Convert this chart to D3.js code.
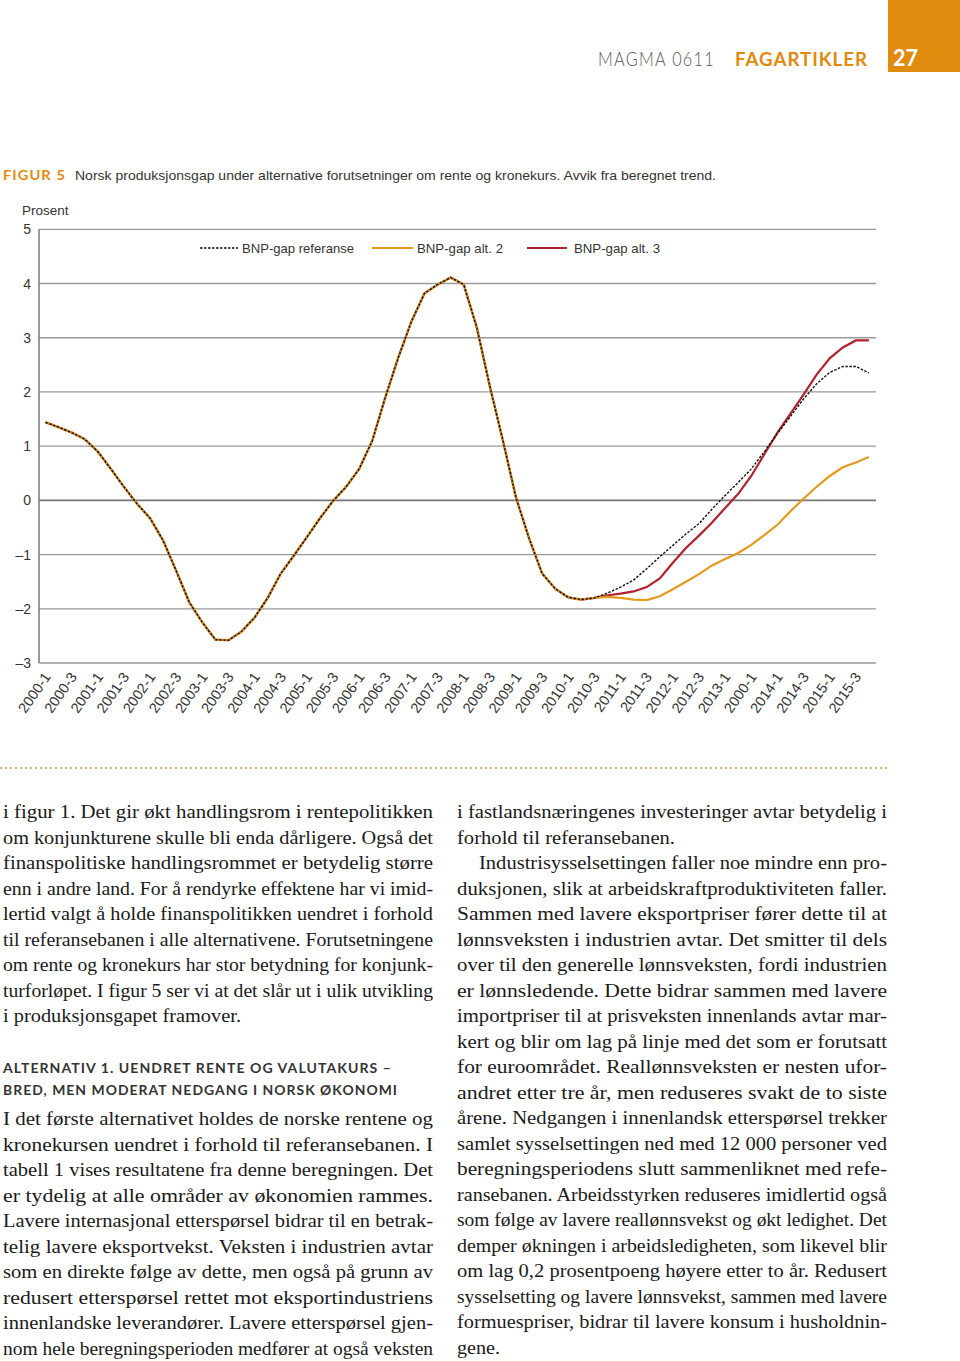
<!DOCTYPE html>
<html><head><meta charset="utf-8">
<script src="https://cdn.jsdelivr.net/npm/d3@7"></script>
<style>body{margin:0;background:#fff}</style>
</head><body><svg id="c" width="960" height="1361"></svg>
<script>
// ---------- DATA ----------
const quarters = [
 "2000-1","2000-2","2000-3","2000-4","2001-1","2001-2","2001-3","2001-4",
 "2002-1","2002-2","2002-3","2002-4","2003-1","2003-2","2003-3","2003-4",
 "2004-1","2004-2","2004-3","2004-4","2005-1","2005-2","2005-3","2005-4",
 "2006-1","2006-2","2006-3","2006-4","2007-1","2007-2","2007-3","2007-4",
 "2008-1","2008-2","2008-3","2008-4","2009-1","2009-2","2009-3","2009-4",
 "2010-1","2010-2","2010-3","2010-4","2011-1","2011-2","2011-3","2011-4",
 "2012-1","2012-2","2012-3","2012-4","2013-1","2013-2","2013-3","2013-4",
 "2014-1","2014-2","2014-3","2014-4","2015-1","2015-2","2015-3","2015-4"];
const tickLabels = [
 "2000-1","2000-3","2001-1","2001-3","2002-1","2002-3","2003-1","2003-3",
 "2004-1","2004-3","2005-1","2005-3","2006-1","2006-3","2007-1","2007-3",
 "2008-1","2008-3","2009-1","2009-3","2010-1","2010-3","2011-1","2011-3",
 "2012-1","2012-3","2013-1","2000-1","2014-1","2014-3","2015-1","2015-3"];
const yTicks = [5,4,3,2,1,0,-1,-2,-3];
const yTickLabels = ["5","4","3","2","1","0","–1","–2","–3"];
// common history (2000-1 .. 2010-2)
const history = [1.44,1.35,1.25,1.13,0.90,0.58,0.25,-0.06,-0.33,-0.74,
 -1.30,-1.88,-2.25,-2.57,-2.58,-2.42,-2.16,-1.80,-1.35,-1.02,
 -0.68,-0.33,-0.01,0.25,0.58,1.10,1.90,2.64,3.30,3.82,
 3.98,4.11,3.98,3.19,2.10,1.10,0.05,-0.70,-1.35,-1.63,
 -1.79,-1.83];
// projections (2010-3 .. 2015-4)
const refTail  = [-1.80,-1.71,-1.60,-1.47,-1.26,-1.04,-0.83,-0.62,-0.43,-0.16,0.09,0.33,0.58,0.90,1.23,1.55,1.87,2.15,2.36,2.47,2.47,2.35];
const alt2Tail = [-1.80,-1.78,-1.80,-1.83,-1.84,-1.77,-1.64,-1.50,-1.36,-1.20,-1.08,-0.97,-0.82,-0.64,-0.45,-0.20,0.03,0.25,0.45,0.61,0.70,0.80];
const alt3Tail = [-1.80,-1.75,-1.72,-1.68,-1.60,-1.44,-1.15,-0.88,-0.65,-0.41,-0.14,0.12,0.45,0.85,1.25,1.60,1.95,2.32,2.62,2.82,2.95,2.95];
const seriesNames = ["BNP-gap referanse","BNP-gap alt. 2","BNP-gap alt. 3"];

const leftLines1 = [
 "i figur 1. Det gir økt handlingsrom i rentepolitikken",
 "om konjunkturene skulle bli enda dårligere. Også det",
 "finanspolitiske handlingsrommet er betydelig større",
 "enn i andre land. For å rendyrke effektene har vi imid-",
 "lertid valgt å holde finanspolitikken uendret i forhold",
 "til referansebanen i alle alternativene. Forutsetningene",
 "om rente og kronekurs har stor betydning for konjunk-",
 "turforløpet. I figur 5 ser vi at det slår ut i ulik utvikling",
 "i produksjonsgapet framover."];
const headingLines = [
 "ALTERNATIV 1. UENDRET RENTE OG VALUTAKURS –",
 "BRED, MEN MODERAT NEDGANG I NORSK ØKONOMI"];
const leftLines2 = [
 "I det første alternativet holdes de norske rentene og",
 "kronekursen uendret i forhold til referansebanen. I",
 "tabell 1 vises resultatene fra denne beregningen. Det",
 "er tydelig at alle områder av økonomien rammes.",
 "Lavere internasjonal etterspørsel bidrar til en betrak-",
 "telig lavere eksportvekst. Veksten i industrien avtar",
 "som en direkte følge av dette, men også på grunn av",
 "redusert etterspørsel rettet mot eksportindustriens",
 "innenlandske leverandører. Lavere etterspørsel gjen-",
 "nom hele beregningsperioden medfører at også veksten"];
const rightLines = [
 "i fastlandsnæringenes investeringer avtar betydelig i",
 "forhold til referansebanen.",
 "Industrisysselsettingen faller noe mindre enn pro-",
 "duksjonen, slik at arbeidskraftproduktiviteten faller.",
 "Sammen med lavere eksportpriser fører dette til at",
 "lønnsveksten i industrien avtar. Det smitter til dels",
 "over til den generelle lønnsveksten, fordi industrien",
 "er lønnsledende. Dette bidrar sammen med lavere",
 "importpriser til at prisveksten innenlands avtar mar-",
 "kert og blir om lag på linje med det som er forutsatt",
 "for euroområdet. Reallønnsveksten er nesten ufor-",
 "andret etter tre år, men reduseres svakt de to siste",
 "årene. Nedgangen i innenlandsk etterspørsel trekker",
 "samlet sysselsettingen ned med 12 000 personer ved",
 "beregningsperiodens slutt sammenliknet med refe-",
 "ransebanen. Arbeidsstyrken reduseres imidlertid også",
 "som følge av lavere reallønnsvekst og økt ledighet. Det",
 "demper økningen i arbeidsledigheten, som likevel blir",
 "om lag 0,2 prosentpoeng høyere etter to år. Redusert",
 "sysselsetting og lavere lønnsvekst, sammen med lavere",
 "formuespriser, bidrar til lavere konsum i husholdnin-",
 "gene."];

// ---------- SETUP ----------
const ORANGE = "#E08A0E";
const svg = d3.select("#c");
svg.append("rect").attr("width",960).attr("height",1361).attr("fill","#fff");

function fit(g, str, x, y, w, o) {
  const t = g.append("text").attr("x", x).attr("y", y).text(str);
  for (const k in o) t.attr(k, o[k]);
  if (w) t.attr("textLength", w).attr("lengthAdjust", "spacingAndGlyphs");
  return t;
}

// Header
svg.append("rect").attr("x",888).attr("y",0).attr("width",72).attr("height",72).attr("fill",ORANGE);
fit(svg,"MAGMA 0611",598,66,117,{"font-family":"Lato","font-weight":300,"font-size":19,"fill":"#555","letter-spacing":1.5});
fit(svg,"FAGARTIKLER",735,66,133,{"font-family":"Lato","font-weight":700,"font-size":19,"fill":ORANGE,"letter-spacing":1});
fit(svg,"27",893,66,25,{"font-family":"Lato","font-weight":700,"font-size":22,"fill":"#fff"});

// Figure title
fit(svg,"FIGUR 5",3,180,63,{"font-family":"Lato","font-weight":700,"font-size":14,"fill":ORANGE,"letter-spacing":1});
fit(svg,"Norsk produksjonsgap under alternative forutsetninger om rente og kronekurs. Avvik fra beregnet trend.",75,180,641,{"font-family":"Liberation Sans","font-size":13.5,"fill":"#333"});
fit(svg,"Prosent",22,215,null,{"font-family":"Liberation Sans","font-size":13.5,"fill":"#333"});

// ---------- CHART ----------
const x = d3.scalePoint().domain(quarters).range([45.5, 868.9]);
const y = d3.scaleLinear().domain([-3,5]).range([663, 229.3]);
const plotL = 39, plotR = 876;

const grid = svg.append("g");
grid.selectAll("line").data(yTicks).join("line")
  .attr("x1", plotL).attr("x2", plotR)
  .attr("y1", d => y(d)).attr("y2", d => y(d))
  .attr("stroke", d => d === 0 ? "#777" : "#9a9a9a")
  .attr("stroke-width", d => d === 0 ? 1.8 : 1.3);
svg.append("line").attr("x1",plotL).attr("x2",plotL).attr("y1",y(5)).attr("y2",y(-3))
  .attr("stroke","#777").attr("stroke-width",1.5);

// y labels
svg.append("g").selectAll("text").data(yTicks).join("text")
  .attr("x", 31).attr("y", d => y(d) + 5).attr("text-anchor","end")
  .attr("font-family","Liberation Sans").attr("font-size",14).attr("fill","#333")
  .text((d,i) => yTickLabels[i]);

// x labels
svg.append("g").selectAll("text").data(tickLabels).join("text")
  .attr("text-anchor","end")
  .attr("transform",(d,i) => `translate(${x(quarters[i*2]) + 6},${677}) rotate(-55)`)
  .attr("font-family","Liberation Sans").attr("font-size",14.5).attr("fill","#333")
  .text(d => d);

const refSeries = history.concat(refTail);
const alt2Series = history.concat(alt2Tail);
const alt3Series = history.concat(alt3Tail);
const line = d3.line().x((d,i) => x(quarters[i])).y(d => y(d));

svg.append("path").datum(alt3Series).attr("d", line).attr("fill","none")
  .attr("stroke","#B0222C").attr("stroke-width",2.2);
svg.append("path").datum(alt2Series).attr("d", line).attr("fill","none")
  .attr("stroke","#E39B1E").attr("stroke-width",2.2);
svg.append("path").datum(refSeries).attr("d", line).attr("fill","none")
  .attr("stroke","#111").attr("stroke-width",1.4).attr("stroke-dasharray","2.5,1.5");

// Legend
const lg = svg.append("g");
const legendItems = [
  {name: seriesNames[0], x1: 200, x2: 238, tx: 242, color: "#111", dash: "2.5,1.5", w: 1.4, tw: 112},
  {name: seriesNames[1], x1: 372, x2: 413, tx: 417, color: "#E39B1E", dash: null, w: 2.2, tw: 86},
  {name: seriesNames[2], x1: 527, x2: 567, tx: 574, color: "#B0222C", dash: null, w: 2.2, tw: 86}
];
legendItems.forEach(it => {
  const l = lg.append("line").attr("x1",it.x1).attr("x2",it.x2).attr("y1",248).attr("y2",248)
    .attr("stroke",it.color).attr("stroke-width",it.w);
  if (it.dash) l.attr("stroke-dasharray", it.dash);
  fit(lg, it.name, it.tx, 253, it.tw, {"font-family":"Liberation Sans","font-size":13.5,"fill":"#333"});
});

// Separator
svg.append("line").attr("x1",0).attr("x2",888).attr("y1",768).attr("y2",768)
  .attr("stroke","#D8B470").attr("stroke-width",2).attr("stroke-dasharray","2,3");

// ---------- BODY TEXT ----------
const bodyFont = {"font-family":"Liberation Serif","font-size":19.5,"fill":"#1a1a1a"};
const LH = 25.52;
leftLines1.forEach((s,i) => {
  const w = i === leftLines1.length - 1 ? 238 : 430;
  fit(svg, s, 3, 818 + i*LH, w, bodyFont);
});
headingLines.forEach((s,i) => {
  fit(svg, s, 3, 1073 + i*22, i === 0 ? 389 : 395, {"font-family":"Lato","font-weight":700,"font-size":13.5,"fill":"#333","letter-spacing":1});
});
leftLines2.forEach((s,i) => {
  fit(svg, s, 3, 1125 + i*LH, 430, bodyFont);
});
rightLines.forEach((s,i) => {
  let xx = 457, w = 430;
  if (i === 1) w = 218;
  if (i === 2) { xx = 479; w = 408; }
  if (i === rightLines.length - 1) w = 43;
  fit(svg, s, xx, 818 + i*LH, w, bodyFont);
});
</script>
</body></html>
